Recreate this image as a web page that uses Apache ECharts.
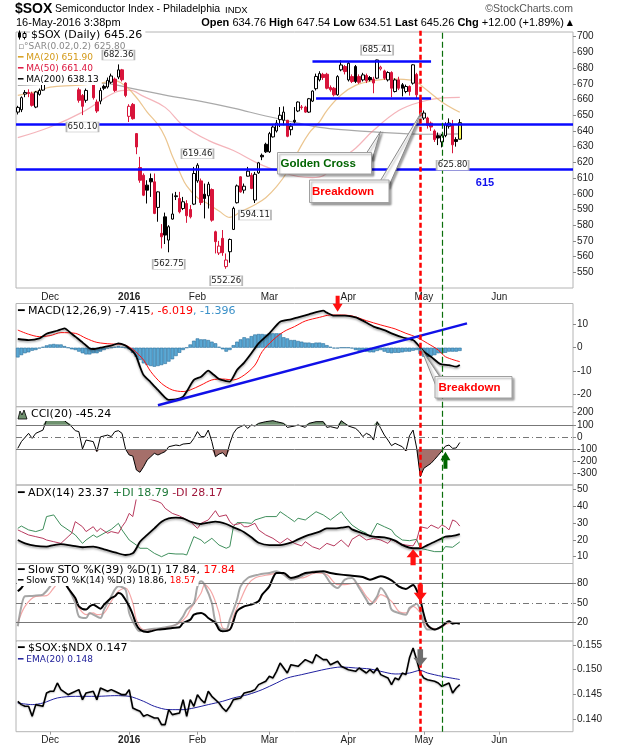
<!DOCTYPE html>
<html>
<head>
<meta charset="utf-8">
<script src="https://cdn.jsdelivr.net/npm/echarts@6.0.0/dist/echarts.min.js"></script>
<style>
html,body{margin:0;padding:0;background:#fff;}
#chart{width:620px;height:750px;}
</style>
</head>
<body>
<div id="chart"></div>
<script>
// ---------- calendar / categories ----------
const startDate = '2015-11-17';
const slotCount = 155;
const marketHolidays = ['2015-11-26','2015-12-25','2016-01-01','2016-01-18','2016-02-15','2016-03-25','2016-05-30'];
const monthLabels = ['Dec','2016','Feb','Mar','Apr','May','Jun'];

// ---------- price data [open, close, low, high] ----------
const ohlc = [
[652,655,650.5,656],[653.5,661.2,652,662],[663.5,664.5,661.5,666],[664.5,663.8,661.5,666.5],[663.7,656.3,655.5,665],
[655.2,664.8,654.5,665.5],[663.3,665.8,662.5,667],[666,672,665.5,673],[673,680,672,681],[681,688,680,690],
[688,684,682,690],[684,676,675,686],[677,683,675,684],[682,678,676,684],[677,674,672.5,679],
[675,679,673,681],[679,676,673.5,681],[666.2,659.5,658,667.5],[662.6,655.7,650.1,663.5],[659.5,665.8,658,667],
[672.5,678,671.5,680],[670,661.2,660,672.5],[658.4,652.7,651.5,660],[659,665.8,657,667.5],[668.4,667.2,666,669.5],
[668,672.2,667,674],[671,675,670,676.5],[673,665.8,664.8,674],[674.3,678.9,673,682.36],[678.9,672.6,671.5,679.5],
[670.5,662.6,661.5,671],[649.3,655.7,645.7,657],[656.9,647.8,647.2,657.8],[638.3,629.8,625.2,638.7],[616.7,608.6,607,623.5],
[611.8,599.1,598.5,613],[605.5,602.3,593.8,608.6],[609.7,607.6,598,612.9],[607.6,587.5,587,612.9],[591.3,601.2,582.2,601.5],
[574.8,572.6,565.2,580.7],[585.3,573.7,568,588],[570.5,579,562.75,580],[583.9,587.1,583.5,600.2],[598.2,598.7,596,601.2],
[597,588.5,587.5,601.2],[590.6,594.9,589.6,598],[593.8,586,581.5,595.9],[590,585.3,584.3,592.8],[593.4,612.9,592.8,617.1],
[608.2,618.2,607,619.46],[608.2,594.4,592.8,609.7],[599.7,597,584.3,606.5],[598.7,606.1,590.6,607.6],[602.7,583.2,582.2,603.4],
[575.8,569.5,562,576.5],[562.3,566.7,561,570],[571.6,562.5,560.5,576.9],[553.6,557.8,552.26,562],[563.1,570.9,556.1,571.5],
[577.3,590.7,576.9,591.8],[594.3,605,593.8,605.9],[610.8,601.2,600.7,611.2],[602.3,604.8,600.2,606.5],[611.2,614.4,611,617.1],
[611.8,603.4,602.9,613.3],[596,612.4,594.11,613.9],[613.3,619.7,612.7,620.3],[624.5,623.5,621.4,625.6],[631.5,626.7,626,632.5],
[626.7,638.3,626,639.4],[636.2,642.5,635.8,643.6],[640,645,639,647],[647.2,650,642.5,655.2],[646.8,652,643.6,655.6],
[646.8,636.6,636,647],[640.8,643,637.2,645],[646.8,645.8,644.6,655.2],[652.7,658.4,652,658.8],[654.9,655.3,653.5,656.5],
[655.2,652,651.5,656],[652,660.5,651.5,661],[659,665.4,658.4,665.8],[666.9,674.7,665.8,676.5],[672.5,676.5,671.5,678],
[676,674,672.5,677],[676.1,667.2,666.5,677],[667.7,666.2,665,669],[667.2,663,662,668],[663,674.6,662.5,675.5],
[678.9,682,678,685],[681,677.8,676,682],[672.5,683.1,671.5,684],[674.6,671.5,670.5,676],[681,671.5,670.5,682],
[674.6,671,670,676],[672.5,675.7,671.5,677],[675.3,671.9,670.5,676.5],[674,672.5,671.5,675],[673,670.5,664,674.5],
[673.6,685.2,673,685.41],[679.5,680.6,678.5,681.5],[678.2,673.6,672.5,679],[672.5,677.2,671.5,678],[677.2,667.2,661.5,678],
[665.1,672.5,664.5,673.5],[672.5,667.2,666,674.5],[669.4,667.2,662,670.5],[665.1,668.3,664,669.5],[668.3,665.1,662.5,669],
[670.4,682.1,669.5,682.5],[676,663,660.5,677],[659.8,651.4,649.2,661],[648.2,651.4,647,653],[648.2,643.5,641.5,649],
[645,642.5,640,646],[640,634.5,633,641],[637,635.5,631,639],[633,637,629.5,638],[637,644,636,645.5],
[643,645,641.5,648],[644,631.2,625.8,647],[634.5,633.26,630,636],[634.76,645.26,634.51,647.54]
];

// ---------- overlays [dayIndex, value] ----------
const ma20 = [[0,662.6],[5,665],[9,667.9],[16,669],[23,670.5],[27,672],[30,668.5],[32,664],[34,658.4],[36,652],[39,644],[41,636],[43,624],[45,614],[47,605],[50,597.5],[53,593.5],[56,589],[59,585],[62,588.5],[66,593],[69,597.5],[72,604.5],[75,614],[78,627],[81,638.5],[84,646],[86,653],[90,663],[94,669],[99,672],[104,673.2],[110,672.2],[113,667.5],[118,658.5],[123,651.9]];
const ma50 = [[0,635.7],[9,642.5],[18,652],[27,664.5],[31,666],[35,662],[41,655],[46,643.5],[53,634],[60,627.5],[67,619.2],[73,614],[78,611],[82,610.3],[85,611.5],[90,622],[94,629],[99,640.4],[106,653],[112,658.4],[118,661],[123,661.4]];
const ma200 = [[0,669],[23,670.5],[32,667],[41,662.8],[51,658.8],[60,654.5],[69,649.5],[78,645],[84,642.3],[92,640.5],[99,639.4],[113,637.9],[123,638.13]];

// ---------- MACD ----------
const macdLine = [[0,3.75],[3,3.3],[6,4.0],[8,6.0],[11,7.3],[13,8.35],[15,6.0],[16,4.76],[18,2.3],[20,-0.3],[21,-0.56],[23,0],[26,0.88],[28,1.9],[30,0.9],[31,-0.27],[32,-1.6],[33,-3.8],[34,-8.2],[35,-11.8],[37,-14.9],[39,-18.2],[41,-21.5],[42,-22.5],[44,-22.3],[46,-21.1],[47,-18.9],[49,-13.9],[51,-12.5],[53,-9.9],[54,-11],[56,-13.5],[58,-14.4],[59,-14.6],[61,-9.6],[63,-6.4],[65,-2.4],[67,1.9],[70,6.2],[73,11.2],[76,12.2],[78,13.1],[81,14.4],[85,16],[86,15.1],[88,13.8],[91,13.8],[94,13.1],[96,11.65],[99,9.1],[102,7.6],[104,6.2],[107,4.5],[110,3.3],[111,1.9],[113,-1.7],[115,-3.9],[117,-6.45],[118,-7.2],[120,-7.5],[122,-8.2],[123,-7.415]];
const macdSignal = [[0,7.6],[3,5.8],[6,4.76],[9,5.2],[12,6.5],[16,6.2],[19,4.04],[22,2.3],[26,1.6],[29,1.45],[32,-0.7],[35,-5.3],[37,-10.3],[40,-15.4],[43,-18.2],[46,-18.9],[48,-18.2],[51,-16.1],[54,-13.9],[57,-13.5],[60,-13.9],[63,-11.8],[66,-7.5],[68,-1.7],[71,3.3],[74,6.9],[77,9.1],[80,11.5],[84,13.1],[87,14.1],[90,14.1],[93,13.7],[97,11.65],[101,9.8],[105,8.1],[108,6.2],[111,4.5],[114,1.9],[117,-1],[119,-3.9],[123,-6.019]];
const macdHist = [-4.2,-3.2,-2.4,-2,-1.3,-1,-0.3,0.4,1,1.4,1.6,1.4,1.4,0.7,0,-0.7,-1,-1.7,-2.4,-2.9,-2.9,-2.4,-2.4,-1.7,-1,-0.3,0,0.4,0.7,0.4,0,-0.7,-2.2,-3.9,-5.3,-6.75,-7.5,-7.9,-8.2,-7.9,-7.5,-7,-6,-5,-3.6,-2.2,-1,0,1.4,3,4,3.6,3.6,3.3,2.6,1.9,0.4,-0.7,-1.7,-1,1.1,2.6,3.6,4.5,4,5,5.7,5.9,5.9,5.7,6.2,6.2,6.2,6.2,4.5,4,3.3,3.3,2.9,2.6,2.2,2.2,1.9,2.2,2.2,1.9,1.1,0.4,-0.3,-0.3,0,0,0,-0.3,-1,-1.3,-1.3,-1.7,-2,-2,-1.4,-1,-1.7,-2.2,-2.4,-2.2,-2.2,-2,-1.7,-1.7,-1.3,-1,-2.7,-3.9,-3.9,-3.6,-3.2,-2.4,-2.4,-2.2,-1.7,-1.7,-1.7,-1.4];

// ---------- CCI(20) ----------
const cci = [[0,-93],[1,-38],[3,30],[4,-11],[5,30],[7,57],[8,140],[9,145],[11,140],[13,134],[15,85],[16,52],[17,44],[18,-98],[19,-25],[21,-38],[22,-120],[23,1],[25,16],[26,3],[27,44],[28,52],[29,30],[30,-101],[31,-148],[32,-156],[33,-271],[34,-290],[35,-244],[36,-189],[37,-162],[38,-134],[39,-148],[40,-134],[41,-120],[42,-80],[44,-66],[45,-71],[46,-58],[48,-52],[49,-11],[50,44],[51,3],[52,3],[53,57],[54,-38],[55,-162],[56,-140],[57,-129],[58,-162],[59,-52],[60,30],[61,71],[62,85],[63,99],[64,71],[65,99],[66,90],[67,112],[69,126],[71,134],[72,126],[74,112],[75,79],[77,90],[78,99],[80,79],[81,112],[83,126],[85,126],[86,79],[87,85],[89,71],[90,134],[91,112],[92,90],[94,71],[95,44],[96,3],[97,30],[98,16],[99,-25],[100,126],[101,71],[102,16],[103,-25],[104,-71],[105,-52],[106,-66],[107,-80],[108,-115],[109,10],[110,57],[111,-90],[112,-326],[113,-257],[115,-216],[116,-184],[117,-150],[118,-115],[119,-75],[120,-66],[121,-93],[122,-90],[123,-45.24]];

// ---------- ADX(14) ----------
const adx = [[0,19.9],[2,17.9],[5,16.4],[8,16],[10,16.9],[12,17.5],[15,16.6],[18,15.6],[21,16],[24,14.4],[27,12.6],[30,11],[32,12],[33,15],[34,18.9],[36,22.9],[38,26.8],[40,30.8],[42,32.8],[44,33.2],[46,32.8],[48,30.8],[51,29.4],[53,30.2],[55,30.8],[58,29.4],[60,27.4],[62,25.7],[63,24.5],[65,21.5],[67,18.3],[70,16.9],[73,16.9],[76,18.3],[78,20.3],[81,22.9],[84,24.9],[86,26.8],[88,26.8],[90,27.2],[92,27.8],[93,26.2],[96,23.9],[99,21.9],[102,21.5],[105,19.5],[107,16.9],[110,15],[112,15],[114,16.9],[116,18.9],[118,20.9],[119,21.9],[121,22.3],[123,23.37]];
const plusDI = [[0,26.8],[1,28.2],[3,25.9],[5,24.9],[7,26.2],[8,33.8],[10,34.8],[12,28.8],[14,25.9],[16,22.9],[18,17.9],[19,19.9],[21,22.9],[22,21.5],[24,23.9],[26,26.2],[28,29.8],[29,25.9],[31,19.9],[33,16.9],[34,15],[36,15],[38,12],[40,10],[42,12],[44,11.6],[46,11.6],[47,11],[49,21.9],[51,19.9],[52,17.9],[54,20.9],[56,16.9],[58,15],[59,16],[60,27.8],[61,30.2],[63,30.2],[65,29.8],[66,31.8],[69,33.8],[72,33.8],[73,36.7],[75,33.8],[77,30.8],[78,32.8],[80,31.8],[83,36.7],[85,34.8],[87,31.8],[90,36.7],[91,33.8],[93,28.8],[95,25.9],[97,23.9],[98,21.9],[100,29.8],[102,27.8],[104,25.9],[105,22.9],[107,19.9],[109,19.5],[111,20.3],[112,15],[114,14],[116,13],[118,13],[119,16],[121,15.6],[123,18.79]];
const minusDI = [[0,25.9],[1,24.9],[3,22.9],[5,21.9],[7,20.9],[8,19.9],[10,18.9],[12,17.9],[14,21.9],[15,23.9],[16,30.8],[18,27.8],[19,24.9],[21,27.8],[22,24.9],[23,26.8],[25,23.9],[26,24.9],[28,23.9],[29,27.8],[30,30.8],[31,35.7],[32,33.8],[33,44.6],[34,51.6],[36,44.6],[37,44],[39,42.7],[40,41.7],[41,38.7],[43,35.7],[45,34.2],[47,31.8],[48,30.8],[50,26.8],[51,29.8],[53,31.8],[55,37.3],[56,33.8],[58,34.8],[59,30.8],[60,28.8],[62,29.8],[63,27.8],[64,27.8],[66,29.8],[67,25.9],[69,22.9],[71,20.9],[73,17.9],[75,20.9],[77,17.9],[79,16.4],[80,18.9],[82,15.9],[84,14.4],[86,17.9],[88,16.4],[90,19.9],[92,15.9],[93,20.3],[95,22.9],[97,19.9],[99,20.9],[101,19.9],[103,17.9],[104,20.3],[106,17.9],[108,16.9],[110,16.4],[111,19.9],[112,27.8],[114,26.8],[115,28.8],[117,26.8],[118,28.8],[119,27.8],[120,25.9],[121,31.8],[122,30.8],[123,28.17]];

// ---------- Slow stochastics ----------
const stoK39 = [[0,68.2],[1,73.3],[3,88],[6,92],[9,95],[12,90],[14,73],[16,57.8],[17,44.8],[19,39.7],[20,44.8],[21,47.4],[23,41.2],[24,47.4],[26,57.8],[27,60.4],[28,65.6],[29,63],[31,44.8],[32,31.9],[33,16.3],[34,8.6],[36,4.9],[37,6],[39,8.6],[41,9.6],[43,11.2],[45,12.2],[46,18.9],[48,24.1],[49,31.9],[51,34.5],[52,31.9],[53,26.7],[55,18.9],[56,8.6],[57,6],[59,8.6],[60,21.5],[61,37.1],[63,44.8],[65,47.4],[67,52.6],[68,63],[70,75.9],[71,88.9],[72,96.7],[74,96.7],[76,88.9],[78,91.5],[80,96.7],[82,97.7],[85,99.2],[87,96.7],[90,94.1],[93,92.5],[96,90.4],[98,86.3],[101,91.5],[104,85.3],[106,75.9],[108,71.8],[110,78],[111,70],[112,55],[113,32],[114,16],[116,8.6],[118,13.8],[120,21.5],[121,17.9],[122,18.9],[123,17.84]];
const stoK14 = [[0,13.8],[1,44.8],[2,60.4],[4,61],[6,62],[7,63],[9,75.9],[10,88],[12,92],[14,73.3],[16,50],[17,29.3],[19,26.7],[20,34.5],[21,31.9],[23,26.7],[24,39.7],[26,60.4],[27,70.7],[28,75.9],[30,70.7],[31,34.5],[33,11.2],[34,6],[36,8.6],[40,11.2],[44,16.3],[46,29.3],[47,39.7],[49,50],[50,75.9],[51,83.7],[52,78],[54,50],[55,21.5],[57,8.6],[58,8.6],[59,24],[61,55],[62,75.9],[64,88.9],[67,94.1],[70,96.7],[72,99.2],[74,94.1],[76,86.3],[78,88.9],[80,94.1],[83,99.2],[85,96.7],[87,81.1],[89,73.3],[91,86.3],[93,88.9],[95,73.3],[97,55.2],[98,47.4],[100,60.4],[101,73.3],[103,57.8],[104,39.7],[106,34.5],[108,31.9],[109,42.3],[110,46],[111,49],[112,38],[113,17],[114,8.6],[116,8.6],[118,13.8],[120,21.5],[121,18.9],[122,19],[123,18.86]];
const stoD3 = [[0,18.9],[2,44.8],[5,60.4],[8,61.4],[10,73.3],[12,85],[15,65.6],[17,42.3],[19,31.9],[21,34.5],[22,31.9],[24,34.5],[26,52.6],[28,68.2],[30,73.3],[32,50],[33,24.1],[35,8.6],[38,8.6],[42,12.7],[45,18.9],[47,29.3],[48,39.7],[51,65.6],[52,78.5],[54,65.6],[56,34.5],[57,11.2],[59,8.6],[60,29.3],[62,55.2],[64,78.5],[66,88.9],[70,94.1],[73,96.7],[76,88.9],[79,88.9],[83,96.7],[86,94.1],[89,78.5],[91,78.5],[94,81.1],[97,60.4],[99,50],[101,63],[104,52.6],[106,37.1],[108,34.5],[110,44.8],[112,34.5],[114,13.8],[117,9.7],[119,16.3],[121,20],[122,18.9],[123,18.57]];

// ---------- $SOX:$NDX ----------
const ratio = [[0,0.14358],[1,0.14291],[2,0.14257],[3,0.14257],[4,0.14054],[5,0.14291],[7,0.14257],[8,0.14527],[9,0.14561],[10,0.14561],[11,0.1473],[12,0.14595],[14,0.14493],[15,0.14527],[17,0.14595],[18,0.14392],[19,0.14527],[21,0.14561],[22,0.14392],[23,0.14628],[25,0.14561],[26,0.14595],[27,0.14561],[29,0.14493],[30,0.14493],[31,0.14595],[32,0.14223],[33,0.14189],[34,0.14155],[35,0.14054],[36,0.14088],[38,0.1402],[39,0.1402],[40,0.13885],[41,0.13885],[42,0.14189],[43,0.14088],[45,0.14122],[46,0.14392],[47,0.14054],[48,0.14392],[49,0.14257],[50,0.14493],[51,0.14392],[52,0.14324],[53,0.14561],[54,0.14459],[56,0.14324],[57,0.14223],[58,0.14155],[59,0.14257],[60,0.14392],[62,0.14426],[63,0.14527],[65,0.14561],[66,0.14595],[67,0.14696],[69,0.14764],[70,0.14865],[71,0.14831],[72,0.14966],[73,0.15135],[75,0.14932],[76,0.15101],[78,0.15068],[79,0.15135],[80,0.15203],[82,0.15135],[83,0.15304],[85,0.15203],[86,0.15203],[87,0.15101],[89,0.15169],[90,0.15068],[91,0.15034],[92,0.15],[94,0.14966],[95,0.15034],[97,0.14932],[98,0.15],[99,0.14932],[100,0.15034],[101,0.14899],[103,0.14831],[104,0.14696],[105,0.14831],[106,0.14797],[107,0.14932],[108,0.14899],[109,0.1524],[110,0.1544],[111,0.1520],[112,0.14932],[113,0.14831],[114,0.14797],[116,0.14764],[117,0.1473],[118,0.14662],[120,0.1473],[121,0.14527],[122,0.14628],[123,0.14696]];
const ratioEma = [[0,0.14324],[4,0.14291],[7,0.14324],[11,0.14426],[16,0.14459],[22,0.14459],[27,0.14473],[31,0.14459],[35,0.14358],[38,0.14257],[42,0.14189],[46,0.14189],[49,0.14223],[53,0.14291],[57,0.14358],[60,0.14426],[64,0.14493],[68,0.14595],[72,0.1473],[75,0.14831],[79,0.14899],[83,0.14966],[86,0.15014],[90,0.15054],[94,0.15034],[98,0.15014],[101,0.14966],[105,0.14912],[109,0.14932],[112,0.14986],[114,0.14932],[118,0.14865],[123,0.148]];

// ---------- annotations (values) ----------
const extremes = [[28,682.36,'high'],[100,685.41,'high'],[50,619.46,'high'],[18,650.10,'low'],[42,562.75,'low'],[58,552.26,'low'],[66,594.11,'low'],[121,625.80,'low']];
const supportLevels = [644.5, 615.5];
const rangeTop = [82, 115, 684.4];
const rangeBottom = [83, 115, 660.7];
const macdTrend = [[39,-24.8],[125,10.5]];
const breakdownDay = 112, cciSignalDay = 118;

// tick labels
const priceTicks = [550,560,570,580,590,600,610,620,630,640,650,660,670,680,690,700];
const macdTicks = [-20,-10,0,10];
const cciTicks = [-300,-200,-100,0,100,200];
const adxTicks = [10,20,30,40,50];
const stoTicks = [20,50,80];
const ratioTicks = [0.140,0.145,0.150,0.155];

// ---------- build ----------
function tradingDays(start, n) {
  const out = [];
  const d = new Date(start + 'T12:00:00Z');
  while (out.length < n) {
    const s = d.toISOString().slice(0, 10);
    const wd = d.getUTCDay();
    if (wd !== 0 && wd !== 6 && marketHolidays.indexOf(s) < 0) out.push(s);
    d.setUTCDate(d.getUTCDate() + 1);
  }
  return out;
}
const dates = tradingDays(startDate, slotCount);
const labelAt = {};
(function(){ let m = 0; for (let i = 1; i < dates.length; i++) if (dates[i].slice(5,7) !== dates[i-1].slice(5,7)) labelAt[i] = monthLabels[m++]; })();
const P = arr => arr.map(p => [dates[p[0]], p[1]]);

const RED = '#d8143a';
const candleData = ohlc.map((d, i) => {
  const o = d[0], c = d[1];
  const prev = i ? ohlc[i-1][1] : o;
  const col = c < prev ? RED : '#000';
  let fill = c >= o ? '#fff' : col;
  if (i === ohlc.length - 1) fill = '#ffff5a';
  return { value: d, itemStyle: { color: fill, color0: fill, borderColor: col, borderColor0: col, borderWidth: 1 } };
});

const FONT = 'Liberation Sans';
const LFONT = 'DejaVu Sans';
const isLab = i => labelAt[i] !== undefined;

function xAx(gi, showLabels, showTicks, hidden) {
  return {
    type: 'category', gridIndex: gi, data: dates, boundaryGap: true, show: !hidden,
    axisLine: { show: false },
    axisTick: { show: showTicks, interval: isLab, alignWithLabel: true, length: 3, lineStyle: { color: '#999' } },
    axisLabel: {
      show: showLabels, interval: isLab, margin: 4, fontSize: 10, fontFamily: FONT, color: '#222',
      formatter: (v, i) => { const t = labelAt[i]; return t === '2016' ? '{b|2016}' : (t || ''); },
      rich: { b: { fontWeight: 'bold', fontSize: 10, fontFamily: FONT, color: '#222' } }
    },
    splitLine: { show: false }
  };
}
function yAx(gi, min, max, ticks, fmt) {
  return {
    type: 'value', gridIndex: gi, position: 'right', min: min, max: max, scale: true,
    splitLine: { show: false }, axisLine: { show: false },
    axisTick: { show: true, length: 3, customValues: ticks, lineStyle: { color: '#888' } },
    axisLabel: { customValues: ticks, fontSize: 10, fontFamily: FONT, color: '#222', margin: 4, formatter: fmt || (v => String(v)) }
  };
}
const gridBase = { left: 16, width: 557, show: true, borderColor: '#b4b4b4', borderWidth: 1, backgroundColor: 'transparent', containLabel: false, outerBoundsMode: 'none' };
const grids = [
  Object.assign({}, gridBase, { top: 32, height: 256 }),
  Object.assign({}, gridBase, { top: 303.5, height: 103.2 }),
  Object.assign({}, gridBase, { top: 406.7, height: 78.3 }),
  Object.assign({}, gridBase, { top: 485, height: 78.5 }),
  Object.assign({}, gridBase, { top: 563.5, height: 77.5 }),
  Object.assign({}, gridBase, { top: 641, height: 90.7 }),
  { left: 16, width: 557, top: 30, height: 701.7, show: false, containLabel: false, outerBoundsMode: 'none' }
];

const DOWN = 'path://M3,0L7,0L7,6L10,6L5,12L0,6L3,6Z';
const UP = 'path://M5,0L10,6L7,6L7,12L3,12L3,6L0,6Z';
const arrow = (i, v, up, color, w, h) => ({ coord: [dates[i], v], symbol: up ? UP : DOWN, symbolSize: [w, h], symbolOffset: [0, up ? '50%' : '-50%'], itemStyle: { color: color }, label: { show: false } });
const noLabel = { show: false };
const shadowBlack = { shadowColor: 'rgba(0,0,0,0.35)', shadowBlur: 2, shadowOffsetY: 1.5 };
const hLine = (v, type) => ({ yAxis: v, lineStyle: { color: '#777', width: 1, type: type } });

function line(xi, data, color, width, extra) {
  return Object.assign({ type: 'line', xAxisIndex: xi, yAxisIndex: xi, data: P(data), showSymbol: false, symbol: 'none', animation: false, silent: true,
    lineStyle: { color: color, width: width }, z: 3 }, extra || {});
}

const cciAbove = cci.map(p => [p[0], Math.max(p[1], 100) - 100]);
const cciBelow = cci.map(p => [p[0], Math.min(p[1], -100) + 100]);

const series = [
  // main panel
  line(0, ma200, 'rgba(140,140,140,0.75)', 1.2, { smooth: 0.4, z: 1 }),
  line(0, ma50, 'rgba(236,130,140,0.6)', 1.2, { smooth: 0.4, z: 1 }),
  line(0, ma20, 'rgba(228,178,105,0.75)', 1.2, { smooth: 0.4, z: 1 }),
  {
    type: 'candlestick', xAxisIndex: 0, yAxisIndex: 0, data: candleData, barWidth: 3, z: 2, silent: true, animation: false,
    markLine: {
      silent: true, symbol: ['none', 'none'], label: noLabel, animation: false,
      lineStyle: { color: '#0a0aff', width: 2.5, type: 'solid' },
      data: [
        { yAxis: supportLevels[0] }, { yAxis: supportLevels[1] },
        [{ coord: [dates[rangeTop[0]], rangeTop[2]] }, { coord: [dates[rangeTop[1]], rangeTop[2]] }],
        [{ coord: [dates[rangeBottom[0]], rangeBottom[2]] }, { coord: [dates[rangeBottom[1]], rangeBottom[2]] }]
      ]
    }
  },
  // high / low value tags (drawn above the legend boxes)
  {
    type: 'scatter', xAxisIndex: 0, yAxisIndex: 0, z: 120, silent: true, animation: false,
    data: extremes.map(e => ({
      value: [dates[e[0]], e[1]], symbol: 'rect', symbolSize: [32, 10],
      symbolOffset: [0, e[2] === 'high' ? -9.5 : 12]
    })),
    itemStyle: { color: '#fff', borderColor: '#b8b8b8', borderWidth: 1, opacity: 1 },
    label: { show: true, position: 'inside', formatter: p => p.value[1].toFixed(2), fontSize: 8.5, fontFamily: LFONT, color: '#222' }
  },
  // MACD
  { type: 'bar', xAxisIndex: 1, yAxisIndex: 1, data: macdHist, barWidth: '100%', silent: true, animation: false,
    itemStyle: { color: '#5aa8d4', borderColor: '#2a6f9c', borderWidth: 0.6 }, z: 1 },
  line(1, macdSignal, '#ff1010', 1, { smooth: 0.3,
    markPoint: { silent: true, animation: false, data: [arrow(89, 15.5, false, '#ff1010', 10, 16)] } }),
  line(1, macdLine, '#000', 1.8, { smooth: 0.2, lineStyle: Object.assign({ color: '#000', width: 1.8 }, shadowBlack),
    markLine: { silent: true, symbol: ['none','none'], label: noLabel, animation: false,
      lineStyle: { color: '#1010e8', width: 2.5, type: 'solid' },
      data: [[{ coord: [dates[macdTrend[0][0]], macdTrend[0][1]] }, { coord: [dates[macdTrend[1][0]], macdTrend[1][1]] }]] } }),
  // CCI
  line(2, cci.map(p => [p[0], 100]), 'rgba(0,0,0,0)', 0, { stack: 'up', lineStyle: { width: 0, opacity: 0 }, z: 1 }),
  line(2, cciAbove, 'rgba(0,0,0,0)', 0, { stack: 'up', lineStyle: { width: 0, opacity: 0 }, areaStyle: { color: '#6f916f', opacity: 1 }, z: 1 }),
  line(2, cci.map(p => [p[0], -100]), 'rgba(0,0,0,0)', 0, { stack: 'dn', lineStyle: { width: 0, opacity: 0 }, z: 1 }),
  line(2, cciBelow, 'rgba(0,0,0,0)', 0, { stack: 'dn', lineStyle: { width: 0, opacity: 0 }, areaStyle: { color: '#a56f6a', opacity: 1 }, z: 1 }),
  line(2, cci, '#000', 1, {
    markLine: { silent: true, symbol: ['none','none'], label: noLabel, animation: false,
      data: [hLine(100, 'solid'), hLine(-100, 'solid'), hLine(0, [6, 3, 1, 3])] },
    markPoint: { silent: true, animation: false, data: [arrow(119, -121, true, '#006400', 10, 17)] } }),
  // ADX
  line(3, plusDI, '#3f8f5c', 1),
  line(3, minusDI, '#b83a5e', 1),
  line(3, adx, '#000', 1.8, { smooth: 0.3, lineStyle: Object.assign({ color: '#000', width: 1.8 }, shadowBlack),
    markPoint: { silent: true, animation: false, data: [arrow(110, 14.4, true, '#ff1010', 13, 16)] } }),
  // STO
  line(4, stoD3, 'rgba(240,120,120,0.65)', 1.2, { smooth: 0.3,
    markLine: { silent: true, symbol: ['none','none'], label: noLabel, animation: false,
      data: [hLine(80, 'solid'), hLine(20, 'solid'), hLine(50, [6, 3, 1, 3])] } }),
  line(4, stoK14, 'rgba(150,150,150,0.85)', 2, { smooth: 0.3 }),
  line(4, stoK39, '#000', 2, { smooth: 0.3,
    markPoint: { silent: true, animation: false, data: [arrow(112, 52.6, false, '#ff1010', 13, 17)] } }),
  // Ratio
  line(5, ratioEma, '#2020a0', 1, { smooth: 0.3 }),
  line(5, ratio, '#000', 1.6, { lineStyle: Object.assign({ color: '#000', width: 1.6 }, { shadowColor: 'rgba(0,0,0,0.25)', shadowBlur: 1.5, shadowOffsetY: 1 }),
    markPoint: { silent: true, animation: false, data: [arrow(112, 0.15068, false, '#6e6e6e', 14, 17)] } }),
  // vertical annotation lines spanning all panels
  { type: 'line', xAxisIndex: 6, yAxisIndex: 6, data: [[dates[0], -5]], showSymbol: false, lineStyle: { opacity: 0 }, silent: true, z: 6, animation: false,
    markLine: { silent: true, symbol: ['none','none'], label: noLabel, animation: false,
      data: [
        { xAxis: dates[breakdownDay], lineStyle: { color: '#ff0000', width: 2.5, type: [5, 3] } },
        { xAxis: dates[cciSignalDay], lineStyle: { color: '#0a6e0a', width: 1.2, type: [6, 3] } }
      ] } }
];

// ---------- text / annotation graphics ----------
function legendLine(x, y, parts, size) {
  const rich = {};
  let text = '';
  parts.forEach((p, k) => {
    rich['p' + k] = { fill: p[1], fontSize: p[3] || size, fontFamily: LFONT, fontWeight: p[2] || 'normal' };
    text += '{p' + k + '|' + p[0] + '}';
  });
  return { type: 'text', x: x, y: y, z: 100, silent: true,
    style: { text: text, rich: rich, fontSize: size, fontFamily: LFONT, verticalAlign: 'middle', align: 'left', backgroundColor: '#fff', padding: [1, 3, 1, 1] } };
}
const M = '━ ';
const graphics = [
  // title rows
  { type: 'text', x: 15, y: 9, z: 100, style: { text: '$SOX', fontSize: 14, fontWeight: 'bold', fontFamily: FONT, fill: '#000', verticalAlign: 'middle' } },
  { type: 'text', x: 55, y: 9.5, z: 100, style: { text: 'Semiconductor Index - Philadelphia', fontSize: 10.5, fontFamily: FONT, fill: '#000', verticalAlign: 'middle' } },
  { type: 'text', x: 225, y: 10, z: 100, style: { text: 'INDX', fontSize: 9.5, fontFamily: FONT, fill: '#000', verticalAlign: 'middle' } },
  { type: 'text', x: 573, y: 9.5, z: 100, style: { text: '©StockCharts.com', fontSize: 10.5, fontFamily: FONT, fill: '#555', align: 'right', verticalAlign: 'middle' } },
  { type: 'text', x: 16, y: 23, z: 100, style: { text: '16-May-2016 3:38pm', fontSize: 11, fontFamily: FONT, fill: '#000', verticalAlign: 'middle' } },
  { type: 'text', x: 573, y: 23, z: 100, style: {
      text: '{b|Open} 634.76 {b|High} 647.54 {b|Low} 634.51 {b|Last} 645.26 {b|Chg} +12.00 (+1.89%) {t|▲}',
      rich: { b: { fontWeight: 'bold', fontSize: 11, fontFamily: FONT, fill: '#000' }, t: { fontSize: 8, fontFamily: LFONT, fill: '#000' } },
      fontSize: 11, fontFamily: FONT, fill: '#000', align: 'right', verticalAlign: 'middle' } },

  // main legend
  legendLine(30, 35.5, [['$SOX (Daily) 645.26', '#000']], 11),
  { type: 'rect', z: 101, silent: true, shape: { x: 19, y: 30.5, width: 1, height: 9 }, style: { fill: '#000' } },
  { type: 'rect', z: 101, silent: true, shape: { x: 18, y: 32.5, width: 3, height: 5 }, style: { fill: '#000' } },
  { type: 'rect', z: 101, silent: true, shape: { x: 24, y: 31.5, width: 1, height: 8 }, style: { fill: '#000' } },
  { type: 'rect', z: 101, silent: true, shape: { x: 23, y: 33.5, width: 3, height: 4 }, style: { fill: '#fff', stroke: '#000', lineWidth: 1 } },
  legendLine(17, 46.7, [['▫°', '#888'], ['SAR(0.02,0.2) 625.80', '#888']], 9),
  legendLine(17, 57.6, [[M, '#d8a020'], ['MA(20) 651.90', '#d49a18']], 9),
  legendLine(17, 68.5, [[M, '#dc143c'], ['MA(50) 661.40', '#dc143c']], 9),
  legendLine(17, 79.4, [[M, '#000'], ['MA(200) 638.13', '#000']], 9),
  { type: 'text', x: 485, y: 182.5, z: 100, style: { text: '615', fontSize: 11, fontWeight: 'bold', fontFamily: FONT, fill: '#1010ee', align: 'center', verticalAlign: 'middle' } },

  // Golden Cross callout
  { type: 'polygon', z: 90, silent: true, shape: { points: [[362, 160], [372, 160], [380.5, 131.5]] }, style: { fill: '#fff', stroke: '#888', lineWidth: 1, shadowBlur: 2, shadowColor: 'rgba(0,0,0,0.35)', shadowOffsetX: 2, shadowOffsetY: 1 } },
  { type: 'rect', z: 91, silent: true, shape: { x: 277.5, y: 152.5, width: 94, height: 21.5 }, style: { fill: '#fff', stroke: '#a0a0a0', lineWidth: 1, shadowBlur: 2, shadowColor: 'rgba(0,0,0,0.35)', shadowOffsetX: 2, shadowOffsetY: 2 } },
  { type: 'text', x: 280.5, y: 163.5, z: 92, style: { text: 'Golden Cross', fontSize: 11.5, fontWeight: 'bold', fontFamily: FONT, fill: '#006400', verticalAlign: 'middle' } },
  // Breakdown callout (price)
  { type: 'polygon', z: 90, silent: true, shape: { points: [[376, 188], [388, 188], [421.5, 112]] }, style: { fill: '#fff', stroke: '#888', lineWidth: 1, shadowBlur: 2, shadowColor: 'rgba(0,0,0,0.35)', shadowOffsetX: 2, shadowOffsetY: 1 } },
  { type: 'rect', z: 91, silent: true, shape: { x: 309.5, y: 180, width: 79.5, height: 22.5 }, style: { fill: '#fff', stroke: '#a0a0a0', lineWidth: 1, shadowBlur: 2, shadowColor: 'rgba(0,0,0,0.35)', shadowOffsetX: 2, shadowOffsetY: 2 } },
  { type: 'text', x: 312, y: 191.5, z: 92, style: { text: 'Breakdown', fontSize: 11.5, fontWeight: 'bold', fontFamily: FONT, fill: '#ff0000', verticalAlign: 'middle' } },
  // Breakdown callout (MACD)
  { type: 'polygon', z: 90, silent: true, shape: { points: [[436, 386], [446, 386], [421, 348.5]] }, style: { fill: '#fff', stroke: '#888', lineWidth: 1, shadowBlur: 2, shadowColor: 'rgba(0,0,0,0.35)', shadowOffsetX: 2, shadowOffsetY: 1 } },
  { type: 'rect', z: 91, silent: true, shape: { x: 435, y: 376.5, width: 77, height: 21.5 }, style: { fill: '#fff', stroke: '#a0a0a0', lineWidth: 1, shadowBlur: 2, shadowColor: 'rgba(0,0,0,0.35)', shadowOffsetX: 2, shadowOffsetY: 2 } },
  { type: 'text', x: 438.5, y: 387.5, z: 92, style: { text: 'Breakdown', fontSize: 11.5, fontWeight: 'bold', fontFamily: FONT, fill: '#ff0000', verticalAlign: 'middle' } },

  // indicator legends
  legendLine(17, 311.5, [[M, '#000'], ['MACD(12,26,9) -7.415', '#000'], [', -6.019', '#ff0000'], [', -1.396', '#3a90c8']], 11),
  legendLine(30, 414.5, [['CCI(20) -45.24', '#000']], 11),
  { type: 'polygon', z: 101, silent: true, shape: { points: [[18, 419], [20, 411], [22, 415], [24, 410], [27, 419]] }, style: { fill: '#6f916f', stroke: '#000', lineWidth: 0.8 } },
  legendLine(17, 493, [[M, '#000'], ['ADX(14) 23.37 ', '#000'], ['+DI 18.79 ', '#1f7a3a'], ['-DI 28.17', '#a0183c']], 11),
  legendLine(17, 570.5, [[M, '#000'], ['Slow STO %K(39) %D(1) 17.84, ', '#000'], ['17.84', '#ff0000']], 11),
  legendLine(17, 580.6, [[M, '#000'], ['Slow STO %K(14) %D(3) 18.86, ', '#000'], ['18.57', '#ff0000']], 9),
  legendLine(17, 648, [[M, '#000'], ['$SOX:$NDX 0.147', '#000']], 11),
  legendLine(17, 659.5, [[M, '#20209a'], ['EMA(20) 0.148', '#20209a']], 9)
];

const option = {
  animation: false,
  backgroundColor: '#fff',
  textStyle: { fontFamily: FONT },
  grid: grids,
  xAxis: [xAx(0, true, false), xAx(1, false, false), xAx(2, false, false), xAx(3, false, false), xAx(4, false, false), xAx(5, true, true), xAx(6, false, false, true)],
  yAxis: [
    yAx(0, 540, 703, priceTicks),
    yAx(1, -25.43, 19.05, macdTicks),
    yAx(2, -394.4, 249, cciTicks),
    yAx(3, 5.96, 52.55, adxTicks),
    yAx(4, -9.1, 111.4, stoTicks),
    yAx(5, 0.13742, 0.15581, ratioTicks, v => v.toFixed(3)),
    { type: 'value', gridIndex: 6, min: 0, max: 1, show: false }
  ],
  series: series,
  graphic: graphics
};
const chart = echarts.init(document.getElementById('chart'), null, { renderer: 'canvas', width: 620, height: 750 });
chart.setOption(option);
</script>
</body>
</html>
